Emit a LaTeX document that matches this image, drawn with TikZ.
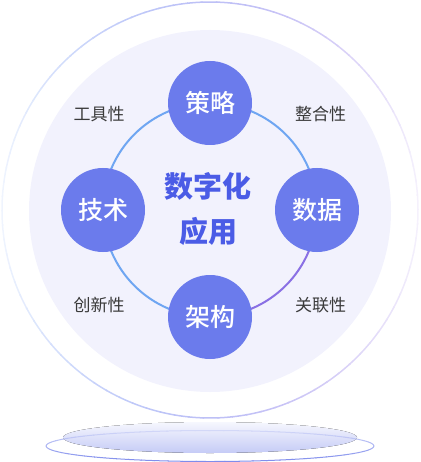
\documentclass[tikz,border=0pt]{standalone}
\usepackage{fontspec}
\newfontfamily\cjk{Noto Sans CJK SC}
\newfontfamily\cjkm{Noto Sans CJK SC Medium}
\usetikzlibrary{backgrounds}
\definecolor{nodefill}{HTML}{6B7BEC}
\definecolor{innerfill}{HTML}{F2F2FD}
\definecolor{ringblue}{HTML}{6FA6F2}
\definecolor{ringpurple}{HTML}{8A70E4}
\definecolor{titleblue}{HTML}{4B5CE6}
\definecolor{labelgray}{HTML}{3A3A3A}
\definecolor{oblue}{HTML}{B0C8FA}
\definecolor{opurple}{HTML}{CBB8F2}
\definecolor{etop}{HTML}{D3D8F8}
\definecolor{ebot}{HTML}{7F8CEC}
\definecolor{ptop}{HTML}{F6F7FE}
\definecolor{pbot}{HTML}{C5CBF6}
\begin{document}
\begin{tikzpicture}[x=1pt,y=1pt,
  keynode/.style={circle, fill=nodefill, minimum size=84pt, inner sep=0pt, text=white, font=\cjkm\fontsize{25}{25}\selectfont},
  trait/.style={text=labelgray, font=\cjk\fontsize{17}{17}\selectfont, inner sep=0pt},
  ringline/.style={line width=2pt},
  outerseg/.style={line width=1.5pt, line cap=butt},
  baseseg/.style={line width=1pt, line cap=butt},
]
\useasboundingbox (0,0) rectangle (420,-462);
% outer ring with varying colour
\foreach \a in {0,4,...,356}{
  \pgfmathsetmacro\bl{50*(1-cos(\a+2))}
  \pgfmathsetmacro\fd{100-80*abs(cos(\a+2))^2}
  \colorlet{segc}{oblue!\bl!opurple}
  \draw[outerseg, draw=segc!\fd!white, shift={(210,-210)}] (\a:208) arc[start angle=\a, end angle=\a+4.4, radius=208];
}
% platform
\fill[top color=ptop, bottom color=pbot] (210,-437.5) ellipse[x radius=147, y radius=15.5];
\foreach \a in {0,5,...,355}{
  \pgfmathsetmacro\t{50*(1-sin(\a+2.5))}
  \draw[baseseg, draw=ebot!\t!etop, shift={(210,-446)}] (\a:164 and 15.5) arc[start angle=\a, end angle=\a+5.4, x radius=164, y radius=15.5];
}
% key nodes
\node[keynode] (ce) at (210,-103) {策略};
\node[keynode] (ji) at (103,-210) {技术};
\node[keynode] (sj) at (317,-210) {数据};
\node[keynode] (jg) at (210,-317) {架构};
\begin{pgfonlayer}{background}
  \fill[innerfill] (210,-211) circle (181);
  \draw[ringline, ringblue] (jg.center) arc[start angle=270, end angle=0, radius=107];
  \draw[ringline, ringpurple] (jg.center) arc[start angle=270, end angle=360, radius=107];
\end{pgfonlayer}
% title
\node[font=\cjk\bfseries\fontsize{29}{45}\selectfont, text=titleblue, align=center] (title) at (208,-209.5) {数字化\\应用};
% traits
\node[trait] (t1) at (99,-114.5) {工具性};
\node[trait] (t2) at (320.5,-114.5) {整合性};
\node[trait] (t3) at (99,-305) {创新性};
\node[trait] (t4) at (320.5,-305) {关联性};
\end{tikzpicture}
\end{document}
